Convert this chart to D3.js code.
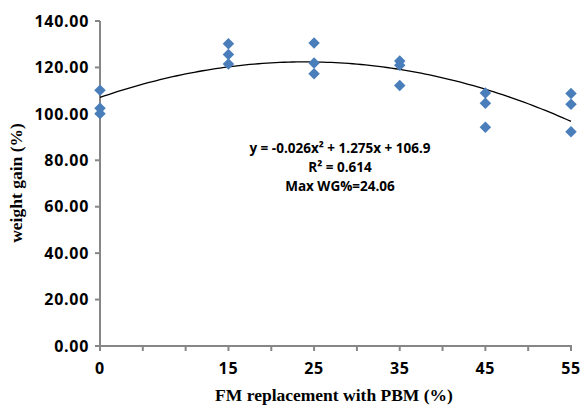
<!DOCTYPE html>
<html>
<head>
<meta charset="utf-8">
<script src="https://cdn.jsdelivr.net/npm/d3@7"></script>
<style>
  body { margin: 0; background: #fff; }
  svg { display: block; }
  .tick-label { font-family: "Open Sans", sans-serif; font-weight: 700; font-size: 16px; letter-spacing: 0.7px; fill: #000; }
  .axis-title { font-family: "Liberation Serif", "Times New Roman", serif; font-weight: 700; font-size: 17.5px; fill: #000; }
  .note { font-family: "Open Sans", sans-serif; font-weight: 700; font-size: 13.5px; fill: #000; }
</style>
</head>
<body>
<div id="chart"></div>
<script>
// FM replacement levels (%) and the three replicate weight gains at each level
const levels = [0, 15, 25, 35, 45, 55];
const rep1 = [110.2, 130.2, 130.5, 122.8, 109.0, 108.8];
const rep2 = [102.4, 125.6, 121.9, 120.9, 104.6, 104.1];
const rep3 = [100.1, 121.5, 117.3, 112.2, 94.2, 92.3];

const xTicks = [0, 5, 10, 15, 20, 25, 30, 35, 40, 45, 50, 55];
const xTickLabels = [0, 15, 25, 35, 45, 55];
const yTicks = [0, 20, 40, 60, 80, 100, 120, 140];

const noteLines = ["y = -0.026x\u00b2 + 1.275x + 106.9", "R\u00b2 = 0.614", "Max WG%=24.06"];

const width = 582, height = 406;
const plot = {left: 100, right: 571, top: 21, bottom: 346};

const x = d3.scaleLinear().domain([0, 55]).range([plot.left, plot.right]);
const y = d3.scaleLinear().domain([0, 140]).range([plot.bottom, plot.top]);

const svg = d3.select("#chart").append("svg")
    .attr("width", width)
    .attr("height", height);

// points as {x, y}
let points = [];
[rep1, rep2, rep3].forEach(rep => rep.forEach((v, i) => points.push({x: levels[i], y: v})));

// least squares quadratic fit (same thing the spreadsheet trendline does)
function polyFit2(pts) {
    let s = [0, 0, 0, 0, 0], t = [0, 0, 0];
    pts.forEach(p => {
        for (let k = 0; k < 5; k++) s[k] += Math.pow(p.x, k);
        for (let k = 0; k < 3; k++) t[k] += Math.pow(p.x, k) * p.y;
    });
    let m = [[s[0], s[1], s[2], t[0]],
             [s[1], s[2], s[3], t[1]],
             [s[2], s[3], s[4], t[2]]];
    // gauss elimination
    for (let i = 0; i < 3; i++) {
        for (let j = i + 1; j < 3; j++) {
            let f = m[j][i] / m[i][i];
            for (let k = i; k < 4; k++) m[j][k] -= f * m[i][k];
        }
    }
    let c = [0, 0, 0];
    for (let i = 2; i >= 0; i--) {
        let sum = m[i][3];
        for (let k = i + 1; k < 3; k++) sum -= m[i][k] * c[k];
        c[i] = sum / m[i][i];
    }
    return c; // c0 + c1 x + c2 x^2
}
const coef = polyFit2(points);
const fitted = d3.range(0, 55.01, 0.5).map(v => ({x: v, y: coef[0] + coef[1] * v + coef[2] * v * v}));

// axes lines
const axisColor = "#868686";
svg.append("line")
    .attr("x1", x(0)).attr("x2", x(0))
    .attr("y1", y(140)).attr("y2", y(0))
    .attr("stroke", axisColor).attr("stroke-width", 2);
svg.append("line")
    .attr("x1", x(0) - 5).attr("x2", x(55) + 1)
    .attr("y1", y(0)).attr("y2", y(0))
    .attr("stroke", axisColor).attr("stroke-width", 2);

// y ticks
svg.selectAll(".ytick").data(yTicks).enter().append("line")
    .attr("class", "ytick")
    .attr("x1", x(0) - 5).attr("x2", x(0))
    .attr("y1", d => y(d)).attr("y2", d => y(d))
    .attr("stroke", axisColor).attr("stroke-width", 2);
svg.selectAll(".ylabel").data(yTicks).enter().append("text")
    .attr("class", "tick-label")
    .attr("x", x(0) - 11)
    .attr("y", d => y(d))
    .attr("dy", "0.36em")
    .attr("text-anchor", "end")
    .text(d => d.toFixed(2));

// x ticks
svg.selectAll(".xtick").data(xTicks).enter().append("line")
    .attr("class", "xtick")
    .attr("x1", d => x(d)).attr("x2", d => x(d))
    .attr("y1", y(0)).attr("y2", y(0) + 5)
    .attr("stroke", axisColor).attr("stroke-width", 2);
svg.selectAll(".xlabel").data(xTickLabels).enter().append("text")
    .attr("class", "tick-label")
    .attr("x", d => x(d))
    .attr("y", 374)
    .attr("text-anchor", "middle")
    .text(d => d);

// axis titles
svg.append("text")
    .attr("class", "axis-title")
    .attr("x", 334).attr("y", 401)
    .attr("text-anchor", "middle")
    .text("FM replacement with PBM (%)");
svg.append("text")
    .attr("class", "axis-title")
    .attr("transform", "translate(22,183) rotate(-90)")
    .attr("text-anchor", "middle")
    .text("weight gain (%)");

// trend line
svg.append("path")
    .datum(fitted)
    .attr("d", d3.line().x(d => x(d.x)).y(d => y(d.y)))
    .attr("fill", "none")
    .attr("stroke", "#000")
    .attr("stroke-width", 1.3);

// markers
svg.selectAll(".pt").data(points).enter().append("path")
    .attr("class", "pt")
    .attr("d", d3.symbol(d3.symbolSquare, 66))
    .attr("transform", d => `translate(${x(d.x)},${y(d.y)}) rotate(45)`)
    .attr("fill", "#4a7ebb");

// equation note
svg.selectAll(".note").data(noteLines).enter().append("text")
    .attr("class", "note")
    .attr("x", 340)
    .attr("y", (d, i) => 153 + i * 19)
    .attr("text-anchor", "middle")
    .text(d => d);
</script>
</body>
</html>
